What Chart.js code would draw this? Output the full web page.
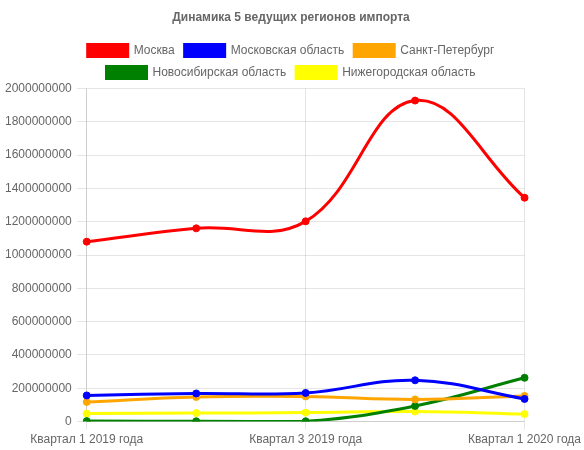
<!DOCTYPE html>
<html><head><meta charset="utf-8">
<script src="https://cdn.jsdelivr.net/npm/chart.js@4"></script>
<style>html,body{margin:0;padding:0;background:#fff}#w{width:584px;height:450px}</style>
</head><body><div id="w"><canvas id="c"></canvas></div>
<script>
const categories = ["Квартал 1 2019 года","Квартал 2 2019 года","Квартал 3 2019 года","Квартал 4 2019 года","Квартал 1 2020 года"];
const moscow = [1080000000, 1160000000, 1202000000, 1927000000, 1344000000];
const moscowRegion = [157000000, 169000000, 172000000, 248000000, 136000000];
const spb = [118000000, 148000000, 151000000, 133000000, 154000000];
const novosibirsk = [3000000, 2000000, 2000000, 94000000, 263000000];
const nizhny = [48000000, 51000000, 54000000, 60000000, 45000000];
const seriesNames = ["Москва","Московская область","Санкт-Петербург","Новосибирская область","Нижегородская область"];
const seriesColors = ["#ff0000","#0000ff","#ffa500","#008000","#ffff00"];
const seriesData = [moscow, moscowRegion, spb, novosibirsk, nizhny];

Chart.defaults.font.family = "'Liberation Sans', Arial, sans-serif";
Chart.defaults.font.size = 12;
Chart.defaults.color = "#666";

new Chart(document.getElementById('c'), {
  type: 'line',
  data: {
    labels: categories,
    datasets: seriesNames.map((n,i)=>({
      label: n, data: seriesData[i],
      borderColor: seriesColors[i], backgroundColor: seriesColors[i],
      borderWidth: 3, pointRadius: 3.5, pointBorderWidth: 1,
      tension: 0.4, fill: false
    }))
  },
  options: {
    responsive: true, maintainAspectRatio: false, animation: false,
    layout: { padding: { left: 0, right: 2, top: 0, bottom: 0 } },
    plugins: {
      title: { display: true, text: "Динамика 5 ведущих регионов импорта", font: { weight: 'bold', size: 12 }, color: "#666", padding: { top: 10, bottom: 10 } },
      legend: { labels: { boxWidth: 40, boxHeight: 12, font: { size: 12 }, color: "#666" } },
      tooltip: { enabled: false }
    },
    scales: {
      x: { ticks: { maxRotation: 0, autoSkip: true, maxTicksLimit: 3, color: "#666" }, grid: { color: "rgba(0,0,0,0.1)" } },
      y: { min: 0, max: 2000000000, ticks: { stepSize: 200000000, padding: 5, color: "#666", callback: v => String(v) }, grid: { color: "rgba(0,0,0,0.1)", tickLength: 10 } }
    }
  }
});
</script></body></html>
